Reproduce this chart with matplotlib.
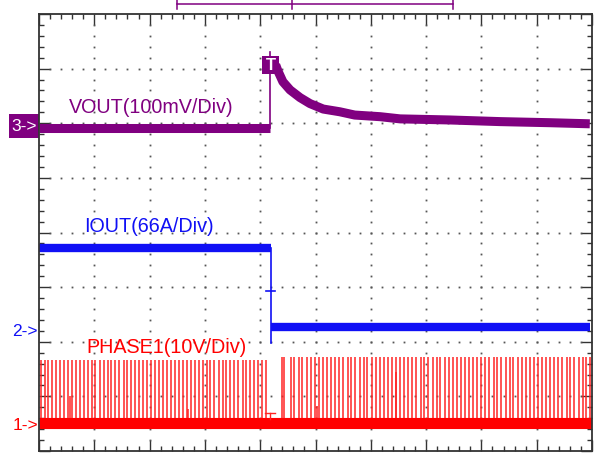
"""
Load-release transient scope capture: VOUT / IOUT / PHASE1
"""
import matplotlib
matplotlib.use('Agg')
import matplotlib.pyplot as plt
from matplotlib.patches import Rectangle
import numpy as np

plt.rcParams['font.family'] = ['Liberation Sans', 'DejaVu Sans']

# screen in divisions: 10 x 8
trigger_x = 4.18

# VOUT (ch3), 100mV/div, in screen divisions
vout_pre_x = [0.0, 4.18]
vout_pre_y = [5.92, 5.92]
vout_post_x = [4.28, 4.32, 4.41, 4.54, 4.72, 4.90, 5.14, 5.44, 5.71, 6.17, 6.53, 7.43, 8.34, 9.24, 9.96]
vout_post_y = [7.07, 6.96, 6.76, 6.61, 6.47, 6.36, 6.26, 6.21, 6.15, 6.12, 6.08, 6.06, 6.03, 6.01, 5.99]
vout_spike_top = 7.31

# IOUT (ch2), 66A/div
iout_pre_x = [0.0, 4.19]
iout_pre_y = [3.72, 3.72]
iout_post_x = [4.19, 9.96]
iout_post_y = [2.27, 2.27]
iout_step_bottom = 1.98

# PHASE1 (ch1), 10V/div
phase_base = 0.51
phase_top_pre = 1.67
phase_top_post = 1.72
pulses_pre = [0.04, 0.10, 0.17, 0.24, 0.31, 0.38, 0.46, 0.52, 0.60, 0.67, 0.74, 0.81,
              0.88, 0.95, 1.02, 1.10, 1.17, 1.24, 1.31, 1.38, 1.45, 1.53, 1.60, 1.67,
              1.74, 1.81, 1.88, 1.96, 2.03, 2.10, 2.17, 2.24, 2.31, 2.39, 2.46, 2.53,
              2.60, 2.67, 2.74, 2.82, 2.89, 2.96, 3.03, 3.10, 3.17, 3.25, 3.32, 3.39,
              3.46, 3.53, 3.60, 3.68, 3.75, 3.82, 3.89, 3.96, 4.03, 4.11]
pulses_post = [4.40, 4.43, 4.55, 4.62, 4.70, 4.75, 4.84, 4.92, 4.99, 5.06, 5.14, 5.21,
               5.28, 5.36, 5.43, 5.50, 5.58, 5.65, 5.72, 5.80, 5.87, 5.94, 6.02, 6.09,
               6.16, 6.24, 6.31, 6.38, 6.46, 6.53, 6.60, 6.68, 6.75, 6.82, 6.90, 6.97,
               7.04, 7.12, 7.19, 7.26, 7.34, 7.41, 7.48, 7.56, 7.63, 7.70, 7.78, 7.85,
               7.92, 8.00, 8.07, 8.14, 8.22, 8.29, 8.36, 8.44, 8.51, 8.58, 8.66, 8.73,
               8.80, 8.88, 8.95, 9.02, 9.10, 9.17, 9.24, 9.32, 9.39, 9.46, 9.54, 9.61,
               9.68, 9.76, 9.83, 9.90, 9.97]
short_pulses_x = [0.56, 2.70, 5.03, 6.45]
short_pulses_top = [1.00, 0.77, 0.82, 1.45]

PURPLE = '#800080'
BLUE = '#1010f5'
RED = '#ff0000'
PULSE = '#ff2424'
FRAME = '#333333'

fig = plt.figure(figsize=(6, 4.56), dpi=100)
ax = fig.add_axes([39 / 600, 4 / 456, 553 / 600, 437 / 456])
ax.set_xlim(0, 10)
ax.set_ylim(0, 8)

# 枠と目盛
for s in ax.spines.values():
    s.set_color(FRAME)
    s.set_linewidth(1.3)
ax.set_xticks(np.arange(0, 11, 1))
ax.set_yticks(np.arange(0, 9, 1))
ax.set_xticks(np.arange(0, 10.01, 0.2), minor=True)
ax.set_yticks(np.arange(0, 8.01, 0.2), minor=True)
ax.tick_params(which='both', direction='in', top=True, right=True,
               labelbottom=False, labelleft=False, color=FRAME, width=1.0)
ax.tick_params(which='major', length=8)
ax.tick_params(which='minor', length=3.5)

# ドットグリッド
dots = np.arange(0.2, 10, 0.2)
for gx in range(1, 10):
    yy = np.arange(0.2, 8, 0.2)
    ax.plot(np.full_like(yy, gx), yy, ls='none', marker='s', ms=1.3, color='#555555', mew=0)
for gy in range(1, 8):
    ax.plot(dots, np.full_like(dots, gy), ls='none', marker='s', ms=1.3, color='#555555', mew=0)

# PHASE1
ax.vlines(pulses_pre, phase_base, phase_top_pre, color=PULSE, lw=1.1)
ax.vlines(pulses_post, phase_base, phase_top_post, color=PULSE, lw=1.1)
ax.vlines(short_pulses_x, phase_base, short_pulses_top, color=PULSE, lw=1.1)
ax.plot([0, 10], [phase_base, phase_base], color=RED, lw=8, solid_capstyle='butt')
ax.plot([trigger_x - 0.09, trigger_x + 0.09], [0.69, 0.69], color=PULSE, lw=1)
ax.plot([trigger_x, trigger_x], [0.69, 0.58], color=PULSE, lw=1)

# IOUT
ax.plot(iout_pre_x, iout_pre_y, color=BLUE, lw=6, solid_capstyle='butt')
ax.plot(iout_post_x, iout_post_y, color=BLUE, lw=6, solid_capstyle='butt')
ax.plot([trigger_x + 0.01, trigger_x + 0.01], [iout_pre_y[0], iout_step_bottom], color=BLUE, lw=1.2)
ax.plot([trigger_x - 0.07, trigger_x + 0.09], [2.93, 2.93], color=BLUE, lw=1.2)

# VOUT
ax.plot(vout_pre_x, vout_pre_y, color=PURPLE, lw=6.5, solid_capstyle='butt')
ax.plot(vout_post_x, vout_post_y, color=PURPLE, lw=6.5, solid_capstyle='butt')
ax.plot([trigger_x, trigger_x], [vout_pre_y[0], vout_spike_top], color=PURPLE, lw=1.2)
ax.add_patch(Rectangle((trigger_x - 0.14, 6.91), 0.30, 0.32, facecolor=PURPLE,
                       edgecolor='none', zorder=5))
ax.text(trigger_x + 0.01, 7.07, 'T', color='white', fontsize=12, fontweight='bold',
        ha='center', va='center', zorder=6)

# ラベル
ax.text(0.54, 6.30, 'VOUT(100mV/Div)', color=PURPLE, fontsize=14.2, va='center')
ax.text(0.81, 4.12, 'IOUT(66A/Div)', color=BLUE, fontsize=14.2, va='center')
ax.text(0.85, 1.92, 'PHASE1(10V/Div)', color=RED, fontsize=14.2, va='center')

# チャンネルマーカー
ax.add_patch(Rectangle((-0.54, 5.73), 0.54, 0.44, facecolor=PURPLE, edgecolor='none',
                       clip_on=False))
ax.text(-0.27, 5.95, '3->', color='white', fontsize=12.5, ha='center', va='center', clip_on=False)
ax.text(-0.48, 2.20, '2->', color=BLUE, fontsize=12.5, va='center', clip_on=False)
ax.text(-0.48, 0.49, '1->', color=RED, fontsize=12.5, va='center', clip_on=False)

# 上部のメモリ位置表示
ax.plot([2.49, 7.48], [8.19, 8.19], color=PURPLE, lw=1.1, clip_on=False)
ax.plot([2.49, 2.49], [8.10, 8.28], color=PURPLE, lw=1.1, clip_on=False)
ax.plot([7.48, 7.48], [8.10, 8.28], color=PURPLE, lw=1.1, clip_on=False)
ax.plot([4.57, 4.57], [8.09, 8.28], color=PURPLE, lw=1.1, clip_on=False)

plt.savefig('out.png', dpi=100)
plt.close()
